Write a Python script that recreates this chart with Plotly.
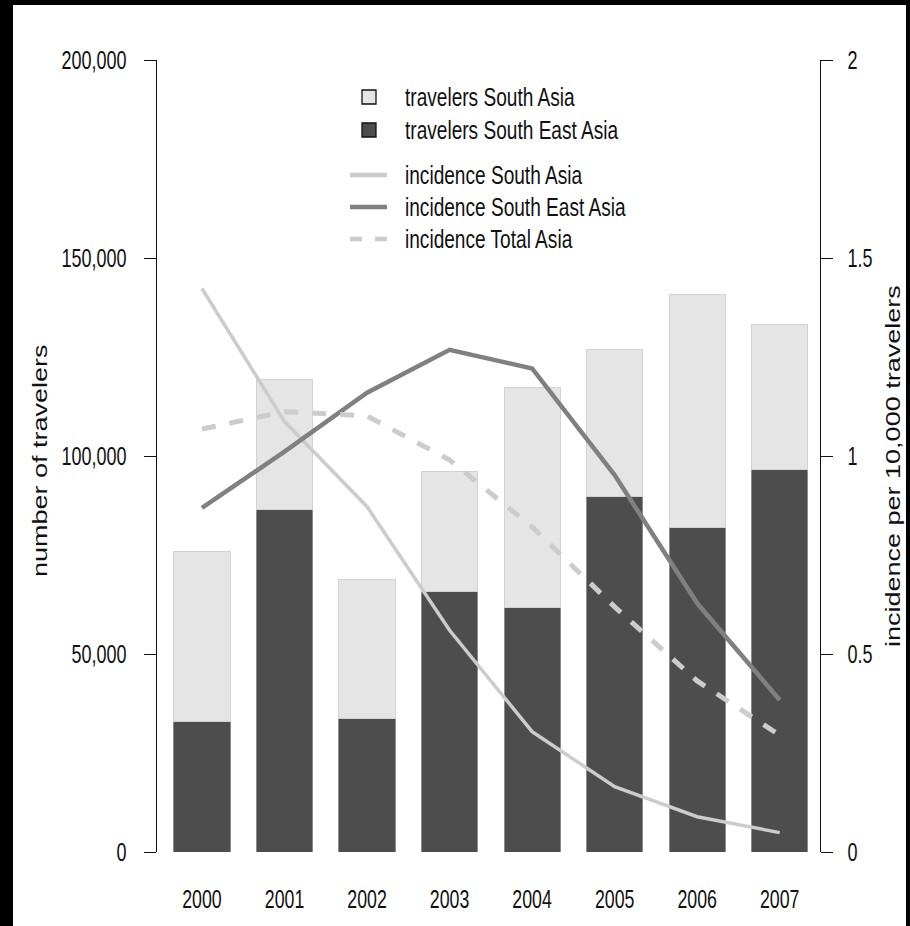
import plotly.graph_objects as go

# Travellers by year (stacked bars, left axis) and incidence per 10,000 travellers (lines, right axis)
years = ["2000", "2001", "2002", "2003", "2004", "2005", "2006", "2007"]
travelers_south_east_asia = [33000, 86600, 33800, 65700, 61800, 89700, 81900, 96700]
travelers_south_asia = [43000, 32600, 35100, 30500, 55400, 37200, 59000, 36400]

incidence_south_asia = [1.423, 1.087, 0.872, 0.560, 0.304, 0.165, 0.089, 0.049]
incidence_south_east_asia = [0.869, 1.011, 1.160, 1.268, 1.221, 0.952, 0.628, 0.384]
incidence_total_asia = [1.068, 1.112, 1.101, 0.990, 0.821, 0.619, 0.432, 0.295]

left_ticks = [0, 50000, 100000, 150000, 200000]
right_ticks = [0, 0.5, 1, 1.5, 2]
right_tick_text = ["0", "0.5", "1", "1.5", "2"]

FONT = "Liberation Sans, Arial, sans-serif"
INK = "#111111"
LIGHT_BAR, DARK_BAR = "#e5e5e5", "#4d4d4d"
LIGHT_LINE, MID_LINE = "#cccccc", "#808080"
TICK_SIZE, KEY_SIZE, TITLE_SIZE = 26.5, 26.5, 27

x = list(range(len(years)))

fig = go.Figure()

fig.add_trace(go.Bar(
    x=x, y=travelers_south_east_asia, name="travelers South East Asia",
    marker=dict(color=DARK_BAR, line=dict(color="#8c8c8c", width=1)),
    width=0.68,
))
fig.add_trace(go.Bar(
    x=x, y=travelers_south_asia, name="travelers South Asia",
    marker=dict(color=LIGHT_BAR, line=dict(color="#d2d2d2", width=1)),
    width=0.68,
))

fig.add_trace(go.Scatter(
    x=x, y=incidence_south_asia, yaxis="y2", mode="lines",
    name="incidence South Asia", line=dict(color=LIGHT_LINE, width=3.5),
))
fig.add_trace(go.Scatter(
    x=x, y=incidence_south_east_asia, yaxis="y2", mode="lines",
    name="incidence South East Asia", line=dict(color=MID_LINE, width=4.5),
))
fig.add_trace(go.Scatter(
    x=x, y=incidence_total_asia, yaxis="y2", mode="lines",
    name="incidence Total Asia", line=dict(color=LIGHT_LINE, width=5, dash="14px,14px"),
))

# plot area in pixels: x 157..820, y 60..852
L, R, T, B = 157, 90, 60, 74
W, H = 910 - L - R, 926 - T - B


def px_x(p):
    return (p - L) / W


def px_y(p):
    return (926 - B - p) / H


shapes = [dict(
    type="rect", xref="paper", yref="paper", layer="below",
    x0=px_x(13), x1=px_x(906), y0=px_y(926), y1=px_y(5),
    fillcolor="white", line=dict(width=0),
)]
annotations = []

# key: filled boxes for the bar series, short strokes for the line series
legend_rows = [
    ("box", LIGHT_BAR, None, "travelers South Asia", 97),
    ("box", DARK_BAR, None, "travelers South East Asia", 130),
    ("line", LIGHT_LINE, "solid", "incidence South Asia", 175),
    ("line", MID_LINE, "solid", "incidence South East Asia", 207),
    ("line", LIGHT_LINE, "12px,13px", "incidence Total Asia", 239),
]
for kind, color, dash, label, yc in legend_rows:
    if kind == "box":
        shapes.append(dict(
            type="rect", xref="paper", yref="paper",
            x0=px_x(362), x1=px_x(376), y0=px_y(yc + 7), y1=px_y(yc - 7),
            fillcolor=color, line=dict(color=INK, width=1.3),
        ))
    else:
        shapes.append(dict(
            type="line", xref="paper", yref="paper",
            x0=px_x(350), x1=px_x(387), y0=px_y(yc), y1=px_y(yc),
            line=dict(color=color, width=4.5, dash=dash),
        ))
    annotations.append(dict(
        text=label, xref="paper", yref="paper", x=px_x(403), y=px_y(yc),
        xanchor="left", yanchor="middle", align="left", showarrow=False,
        font=dict(family=FONT, size=KEY_SIZE, color=INK),
    ))

annotations += [
    dict(text="number of travelers", xref="paper", yref="paper",
         x=px_x(40), y=px_y(460), xanchor="center", yanchor="middle",
         textangle=-90, showarrow=False, font=dict(family=FONT, size=TITLE_SIZE, color=INK)),
    dict(text="incidence per 10,000 travelers", xref="paper", yref="paper",
         x=px_x(893), y=px_y(466), xanchor="center", yanchor="middle",
         textangle=-90, showarrow=False, font=dict(family=FONT, size=TITLE_SIZE, color=INK)),
]

fig.update_layout(
    width=910, height=926,
    margin=dict(l=L, r=R, t=T, b=B, autoexpand=False),
    paper_bgcolor="black", plot_bgcolor="white",
    barmode="stack",
    font=dict(family=FONT, size=TICK_SIZE, color=INK),
    showlegend=False,
    xaxis=dict(
        range=[-0.545, 7.488], tickmode="array", tickvals=x, ticktext=years,
        showline=False, showgrid=False, zeroline=False,
        ticks="outside", ticklen=23, tickcolor="rgba(0,0,0,0)",
        tickfont=dict(family=FONT, size=TICK_SIZE, color=INK),
    ),
    yaxis=dict(
        range=[0, 200000], tickmode="array", tickvals=left_ticks,
        tickformat=",d", showgrid=False, zeroline=False,
        showline=True, linecolor=INK, linewidth=1.3,
        ticks="outside", ticklen=12, tickwidth=1.3, tickcolor=INK,
        ticklabelstandoff=12,
        tickfont=dict(family=FONT, size=TICK_SIZE, color=INK),
    ),
    yaxis2=dict(
        range=[0, 2], overlaying="y", side="right",
        tickmode="array", tickvals=right_ticks, ticktext=right_tick_text,
        showgrid=False, zeroline=False,
        showline=True, linecolor=INK, linewidth=1.3,
        ticks="outside", ticklen=12, tickwidth=1.3, tickcolor=INK,
        ticklabelstandoff=9,
        tickfont=dict(family=FONT, size=TICK_SIZE, color=INK),
    ),
    shapes=shapes,
    annotations=annotations,
)

# all lettering is set in a condensed width: horizontal labels are squeezed along
# their baseline, the vertical axis titles across it
squeeze_js = """
(function () {
  var gd = document.getElementById('{plot_id}');
  function angleOf(el) {
    var holder = el.closest('.annotation-text-g');
    if (!holder) return 0;
    var m = /rotate\\(\\s*([-\\d.eE]+)/.exec(holder.getAttribute('transform') || '');
    return m ? parseFloat(m[1]) : 0;
  }
  function squeeze() {
    var groups = [['.xtick text', 0.67], ['.ytick text', 0.68], ['.y2tick text', 0.68],
                  ['.annotation-text', 0.72]];
    groups.forEach(function (g) {
      gd.querySelectorAll(g[0]).forEach(function (el) {
        if (el.getAttribute('data-squeezed')) return;
        if (Math.abs(angleOf(el)) > 1) {
          var bb = el.getBBox();
          var cy = bb.y + bb.height / 2;
          el.setAttribute('transform', 'translate(0,' + cy + ') scale(1,0.74) translate(0,' + (-cy) + ')');
        } else {
          var w = el.getComputedTextLength();
          el.setAttribute('textLength', (w * g[1]).toFixed(2));
          el.setAttribute('lengthAdjust', 'spacingAndGlyphs');
        }
        el.setAttribute('data-squeezed', '1');
      });
    });
  }
  squeeze();
  gd.on('plotly_afterplot', squeeze);
})();
"""

fig.write_html("out.html", post_script=squeeze_js)
